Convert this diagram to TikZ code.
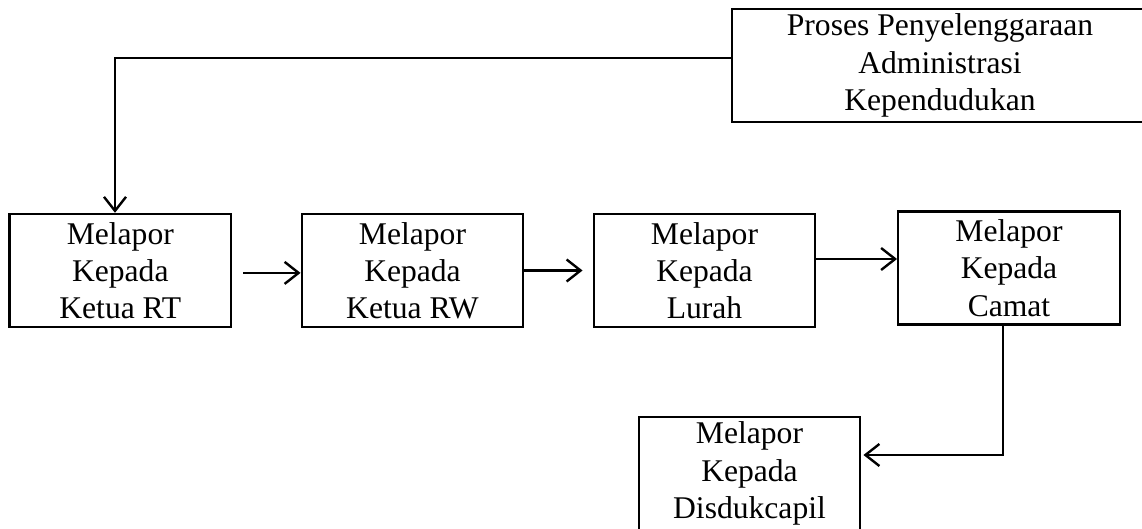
\documentclass[tikz,border=0pt]{standalone}
\usepackage{fontspec}
\setmainfont{Liberation Serif}
\usetikzlibrary{arrows.meta,positioning}
\tikzset{
  kotak/.style={draw,line width=1.2pt,align=center,inner sep=0pt,
    minimum width=110.75pt,minimum height=56.5pt,
    font=\fontsize{15.8}{18.6}\selectfont},
  panah/.style={line width=1.2pt,-{Straight Barb[length=7pt,width=11pt]}},
}

\begin{document}
\begin{tikzpicture}[x=0.5pt,y=-0.5pt]
  \useasboundingbox (0,0) rectangle (1142,529);
  \clip (0,0) rectangle (1142,529);
  \node[kotak,minimum width=208pt] (proses) at (940,65.5)
    {Proses Penyelenggaraan\\ Administrasi\\ Kependudukan};
  \node[kotak] (rt) at (120.3,270.5) {Melapor\\ Kepada\\ Ketua RT};
  \node[kotak] (rw) at (412.5,270.5) {Melapor\\ Kepada\\ Ketua RW};
  \node[kotak] (lurah) at (704.5,270.5) {Melapor\\ Kepada\\ Lurah};
  \node[kotak] (camat) at (1009,268) {Melapor\\ Kepada\\ Camat};
  \node[kotak] (disduk) at (749.5,473.5) {Melapor\\ Kepada\\ Disdukcapil};
  % alur laporan
  \draw[panah] ([yshift=3.75pt]proses.west) -| ([xshift=-2.65pt]rt.north);
  \draw[panah,shorten <=5.5pt] ([yshift=-1.2pt]rt.east) -- ([yshift=-1.2pt]rw.west);
  \draw[panah,shorten >=5pt] (rw.east) -- (lurah.west);
  \draw[panah] ([yshift=5.75pt]lurah.east) -- ([yshift=4.5pt]camat.west);
  \draw[panah,shorten >=1pt] ([xshift=-3pt]camat.south) |- ([yshift=9.25pt]disduk.east);
\end{tikzpicture}
\end{document}
